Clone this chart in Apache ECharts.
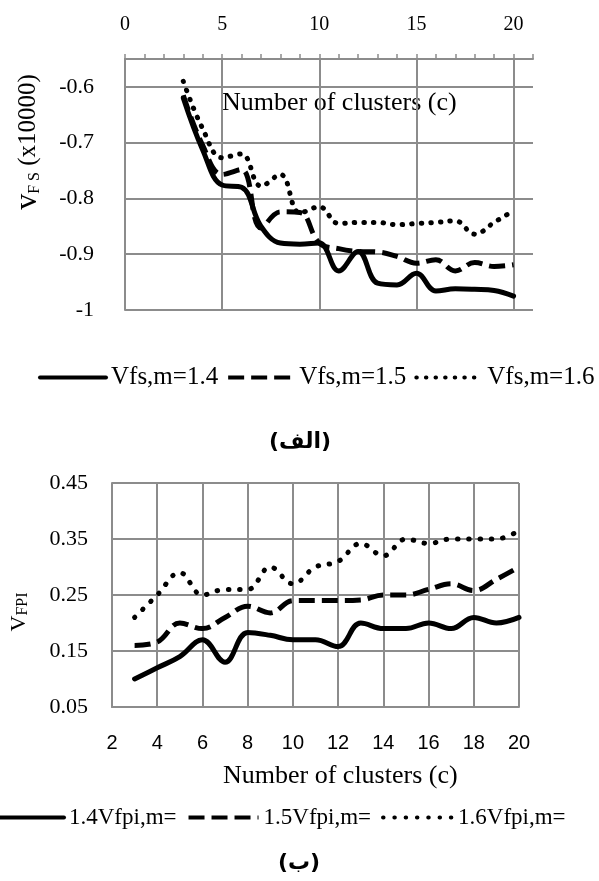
<!DOCTYPE html>
<html><head><meta charset="utf-8">
<script src="https://cdn.jsdelivr.net/npm/echarts@6.0.0/dist/echarts.min.js"></script>
<style>html,body{margin:0;padding:0;background:#fff}#c{width:599px;height:881px}</style>
</head><body><div id="c"></div>
<script>
// ---- data (top chart: v_FS x10000) ----
const clustersTop = [3,4,5,6,7,8,9,10,11,12,13,14,15,16,17,18,19,20];
const vfs14 = [-0.62,-0.713,-0.776,-0.78,-0.85,-0.88,-0.882,-0.88,-0.93,-0.895,-0.952,-0.955,-0.934,-0.966,-0.962,-0.963,-0.965,-0.975];
const vfs15 = [-0.615,-0.705,-0.757,-0.748,-0.853,-0.824,-0.825,-0.88,-0.89,-0.895,-0.896,-0.904,-0.916,-0.91,-0.93,-0.915,-0.922,-0.919];
const vfs16 = [-0.59,-0.675,-0.727,-0.72,-0.778,-0.757,-0.826,-0.815,-0.845,-0.843,-0.843,-0.847,-0.845,-0.843,-0.84,-0.864,-0.843,-0.822];
const namesTop = ['Vfs,m=1.4','Vfs,m=1.5','Vfs,m=1.6'];
// ---- data (bottom chart: v_FPI) ----
const clustersBottom = [3,4,5,6,7,8,9,10,11,12,13,14,15,16,17,18,19,20];
const vfpi14 = [0.10,0.12,0.14,0.17,0.13,0.183,0.178,0.17,0.17,0.158,0.20,0.19,0.19,0.20,0.19,0.21,0.20,0.21];
const vfpi15 = [0.16,0.166,0.20,0.19,0.21,0.23,0.218,0.24,0.24,0.24,0.241,0.25,0.25,0.26,0.27,0.258,0.278,0.30];
const vfpi16 = [0.21,0.25,0.29,0.25,0.26,0.26,0.30,0.27,0.30,0.31,0.342,0.32,0.35,0.342,0.35,0.35,0.35,0.365];
const namesBottom = ['1.4Vfpi,m=','1.5Vfpi,m=','1.6Vfpi,m='];

const GC = '#8c8c8c';
const SERIF = 'Liberation Serif';
const T = 'rgba(0,0,0,0)';
function pairs(xs, ys){ return xs.map((x,i)=>[x, ys[i]]); }
const solidLS  = {color:'#000', width:5, type:'solid', cap:'round', join:'round'};
const dashedLS = {color:'#000', width:5, type:[16,7], cap:'butt', join:'round'};
const dottedTopLS = {color:'#000', width:5, type:[0.5,9.1], cap:'round', join:'round'};
const dottedBotLS = {color:'#000', width:5, type:[0.5,10.8], cap:'round', join:'round'};

function mk(name, xs, ys, ls, gi){
  return {type:'line', name:name, xAxisIndex:gi, yAxisIndex:gi, data:pairs(xs,ys),
    smooth:0.4, showSymbol:false, symbol:'none', lineStyle:ls, itemStyle:{color:'#000'},
    emphasis:{disabled:true}};
}
const legendItemStyle = {color:T, borderColor:T, borderWidth:0, opacity:0};
const legendLineStyle = {width:4};

const chart = echarts.init(document.getElementById('c'), null, {renderer:'canvas'});
chart.setOption({
  animation:false,
  backgroundColor:'#fff',
  grid:[
    {left:125, top:59, width:408, height:251, outerBoundsMode:'none', containLabel:false},
    {left:112, top:483, width:407, height:224, outerBoundsMode:'none', containLabel:false}
  ],
  xAxis:[
    {gridIndex:0, type:'value', position:'top', min:0, max:21, interval:1,
     axisLine:{show:true, onZero:false, lineStyle:{color:GC, width:2}},
     axisTick:{show:true, inside:false, length:5, lineStyle:{color:GC, width:1.5}},
     axisLabel:{margin:24, fontFamily:SERIF, fontSize:20, color:'#000',
       formatter:function(v){ return (v % 5 === 0) ? String(v) : ''; }},
     splitLine:{show:true, lineStyle:{color:[GC,T,T,T,T], width:2}}},
    {gridIndex:1, type:'value', min:2, max:20, interval:2,
     axisLine:{show:true, onZero:false, lineStyle:{color:GC, width:2}},
     axisTick:{show:false},
     axisLabel:{margin:26, fontFamily:'Liberation Sans', fontSize:20, color:'#000'},
     splitLine:{show:true, lineStyle:{color:GC, width:2}}}
  ],
  yAxis:[
    {gridIndex:0, type:'value', min:-1, max:-0.55, interval:0.1,
     axisLine:{show:true, onZero:false, lineStyle:{color:GC, width:2}},
     axisTick:{show:false},
     axisLabel:{margin:31, fontFamily:SERIF, fontSize:22, color:'#000', showMaxLabel:false},
     splitLine:{show:true, lineStyle:{color:GC, width:2}}},
    {gridIndex:1, type:'value', min:0.05, max:0.45, interval:0.1,
     axisLine:{show:true, onZero:false, lineStyle:{color:GC, width:2}},
     axisTick:{show:false},
     axisLabel:{margin:24, fontFamily:SERIF, fontSize:22, color:'#000'},
     splitLine:{show:true, lineStyle:{color:GC, width:2}}}
  ],
  legend:[
    {data:namesTop, left:38, top:365, width:590, padding:0, itemWidth:66, itemHeight:14, itemGap:8, selectedMode:false,
     itemStyle:legendItemStyle, lineStyle:legendLineStyle,
     textStyle:{fontFamily:SERIF, fontSize:25, color:'#000'}},
    {data:namesBottom, left:-8, top:806, width:600, padding:0, itemWidth:70, itemHeight:14, itemGap:10, selectedMode:false,
     itemStyle:legendItemStyle, lineStyle:legendLineStyle,
     textStyle:{fontFamily:SERIF, fontSize:23, color:'#000'}}
  ],
  graphic:[
    {type:'text', x:222, y:103, style:{text:'Number of clusters (c)', fontFamily:SERIF, fontSize:26, fill:'#000', verticalAlign:'middle'}},
    {type:'text', x:223, y:776, style:{text:'Number of clusters (c)', fontFamily:SERIF, fontSize:26, fill:'#000', verticalAlign:'middle'}},
    {type:'text', x:28, y:142, rotation:Math.PI/2,
     style:{text:'{v|v}{s|F S}{t| (x10000)}', align:'center', verticalAlign:'middle', fill:'#000',
       rich:{v:{fontFamily:SERIF, fontSize:32, lineHeight:30, fill:'#000'},
             s:{fontFamily:SERIF, fontSize:16, lineHeight:14, verticalAlign:'bottom', fill:'#000'},
             t:{fontFamily:SERIF, fontSize:25, lineHeight:30, fill:'#000'}}}},
    {type:'text', x:19, y:612, rotation:Math.PI/2,
     style:{text:'{v|V}{s|FPI}', align:'center', verticalAlign:'middle', fill:'#000',
       rich:{v:{fontFamily:SERIF, fontSize:22, lineHeight:24, fill:'#000'},
             s:{fontFamily:SERIF, fontSize:16, lineHeight:15, verticalAlign:'bottom', fill:'#000'}}}},
    {type:'text', x:300, y:442, style:{text:'(الف)', fontFamily:'DejaVu Sans', fontWeight:'bold', fontSize:22, fill:'#000', align:'center', verticalAlign:'middle'}},
    {type:'text', x:299, y:863, style:{text:'(ب)', fontFamily:'DejaVu Sans', fontWeight:'bold', fontSize:22, fill:'#000', align:'center', verticalAlign:'middle'}}
  ],
  series:[
    mk(namesTop[0], clustersTop, vfs14, solidLS, 0),
    mk(namesTop[1], clustersTop, vfs15, dashedLS, 0),
    mk(namesTop[2], clustersTop, vfs16, dottedTopLS, 0),
    mk(namesBottom[0], clustersBottom, vfpi14, solidLS, 1),
    mk(namesBottom[1], clustersBottom, vfpi15, dashedLS, 1),
    mk(namesBottom[2], clustersBottom, vfpi16, dottedBotLS, 1)
  ]
});
</script></body></html>
